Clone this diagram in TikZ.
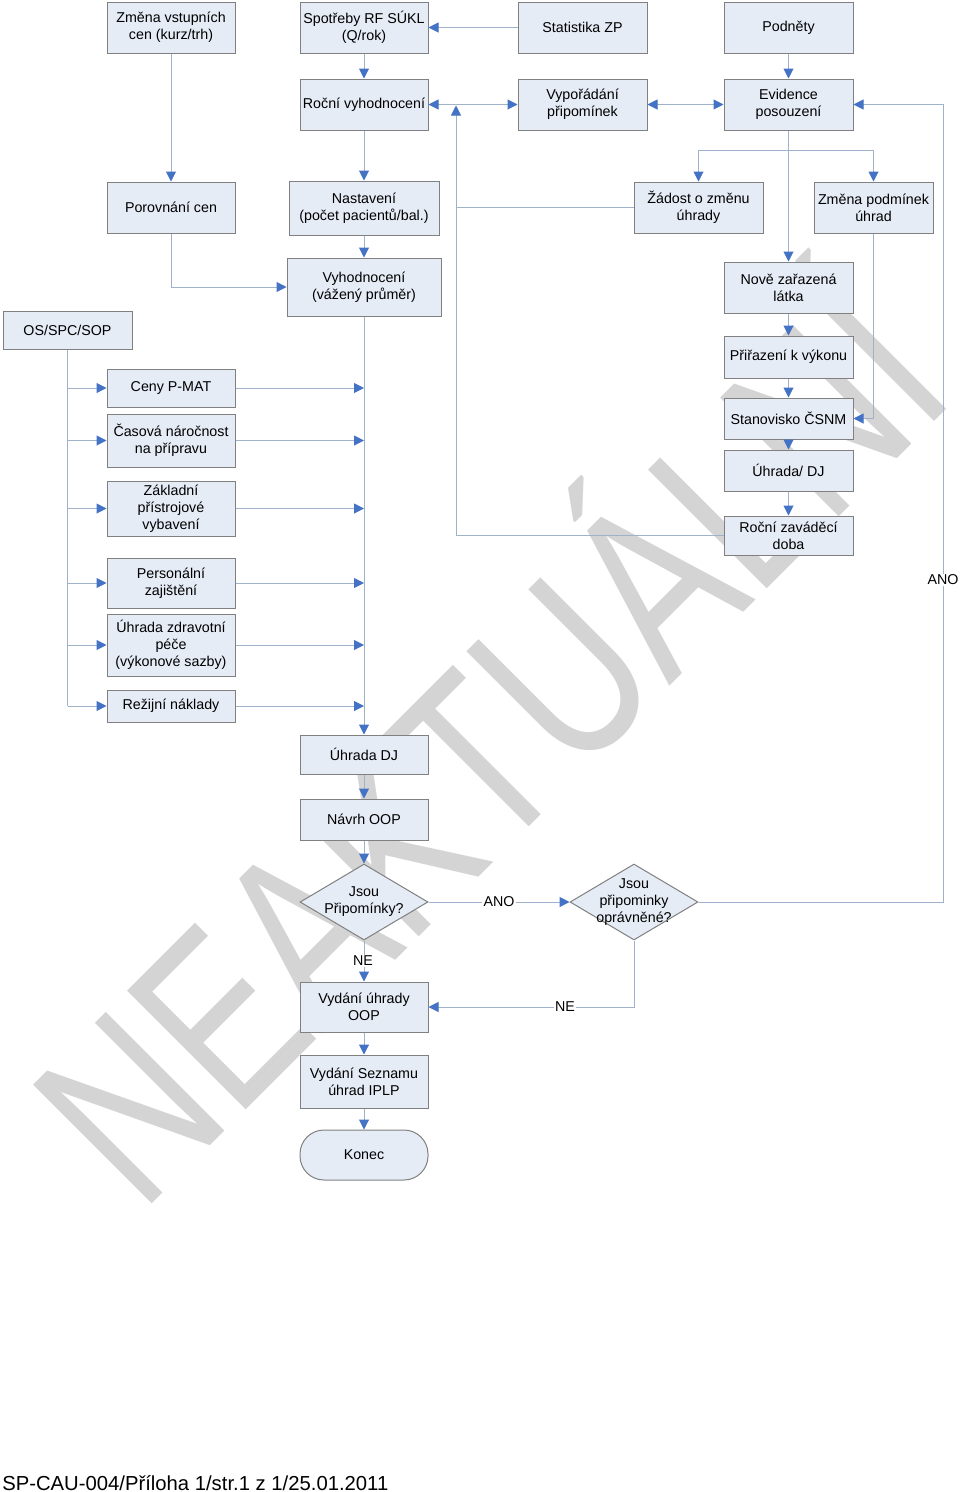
\documentclass[tikz,border=0pt]{standalone}
\usepackage{fontspec}
\setmainfont{Liberation Sans}
\usetikzlibrary{arrows.meta,shapes.geometric,calc}
\definecolor{boxfill}{RGB}{230,236,246}
\definecolor{boxline}{RGB}{128,128,128}
\definecolor{conn}{RGB}{160,178,202}
\definecolor{tipblue}{RGB}{68,114,196}
\definecolor{wm}{RGB}{212,212,212}
\begin{document}
\begin{tikzpicture}[x=0.75pt,y=-0.75pt,
  box/.style={draw=boxline, fill=boxfill, line width=0.75pt, align=center, inner sep=1pt,
    font=\fontsize{10.7}{12.75}\selectfont, minimum width=96pt, minimum height=#1},
  box/.default=38.25pt,
  txt/.style={align=center, inner sep=0pt, font=\fontsize{10.7}{12.75}\selectfont},
  lbl/.style={fill=white, inner sep=1pt, font=\fontsize{10.7}{12.75}\selectfont},
  ln/.style={draw=conn, line width=0.75pt},
  arr/.style={draw=conn, line width=0.75pt, -{Triangle[length=7.5pt,width=7.5pt,color=tipblue]}},
  arrboth/.style={draw=conn, line width=0.75pt, {Triangle[length=7.5pt,width=7.5pt,color=tipblue]}-{Triangle[length=7.5pt,width=7.5pt,color=tipblue]}},
  dia/.style={diamond, draw=boxline, fill=boxfill, line width=0.75pt, inner sep=0pt, minimum width=96pt, minimum height=57pt}
]
\useasboundingbox (0,0) rectangle (960,1492);
\fill[white] (0,0) rectangle (960,1492);

% watermark
\node[text=wm, rotate=45, anchor=base, inner sep=0pt, font=\fontsize{183}{183}\selectfont] (wmark) at (550,806) {\scalebox{0.755}[1]{NEAKTUÁLNÍ}};

% boxes
\node[box] (zmena) at (171,27.5) {Změna vstupních\\cen (kurz/trh)};
\node[box] (spotreby) at (364,27.5) {Spotřeby RF SÚKL\\(Q/rok)};
\node[box, minimum width=96.75pt] (statistika) at (582.5,27.5) {Statistika ZP};
\node[box, minimum width=96.75pt] (podnety) at (788.5,27.5) {Podněty};
\node[box] (rocni) at (364,104.5) {Roční vyhodnocení};
\node[box, minimum width=96.75pt] (vyporadani) at (582.5,104.5) {Vypořádání\\připomínek};
\node[box, minimum width=96.75pt] (evidence) at (788.5,104.5) {Evidence\\posouzení};
\node[box] (porovnani) at (171,207.5) {Porovnání cen};
\node[box, minimum width=112.5pt, minimum height=40.5pt] (nastaveni) at (364,208) {Nastavení\\(počet pacientů/bal.)};
\node[box, minimum width=96.75pt] (zadost) at (698.5,207.5) {Žádost o změnu\\úhrady};
\node[box, minimum width=89.25pt] (zmenapod) at (873.5,207.5) {Změna podmínek\\úhrad};
\node[box, minimum width=115.5pt, minimum height=43.5pt] (vyhodnoceni) at (364,287) {Vyhodnocení\\(vážený průměr)};
\node[box, minimum width=96.75pt] (nove) at (788.5,287.5) {Nově zařazená\\látka};
\node[box, minimum width=96.75pt, minimum height=28.5pt] (os) at (67.5,330) {OS/SPC/SOP};
\node[box=28.5pt] (ceny) at (171,388) {Ceny P-MAT};
\node[box=39.75pt] (casova) at (171,440.5) {Časová náročnost\\na přípravu};
\node[box=41.25pt] (zakladni) at (171,508.5) {Základní\\přístrojové\\vybavení};
\node[box=37.5pt] (personalni) at (171,583) {Personální\\zajištění};
\node[box=46.5pt] (uhradazp) at (171,645) {Úhrada zdravotní\\péče\\(výkonové sazby)};
\node[box=24pt] (rezijni) at (171,706) {Režijní náklady};
\node[box=31.5pt, minimum width=96.75pt] (prirazeni) at (788.5,357) {Přiřazení k výkonu};
\node[box=30.75pt, minimum width=96.75pt] (stanovisko) at (788.5,418.5) {Stanovisko ČSNM};
\node[box=30.75pt, minimum width=96.75pt] (uhradadj2) at (788.5,470.5) {Úhrada/ DJ};
\node[box=29.25pt, minimum width=96.75pt] (zavadeci) at (788.5,535.5) {Roční zaváděcí\\doba};
\node[box=29.25pt] (uhradadj) at (364,754.5) {Úhrada DJ};
\node[box=30.75pt] (navrh) at (364,819.5) {Návrh OOP};
\node[dia] (d1) at (364,902) {};
\node[txt] (d1t) at (364,902) {Jsou\\Připomínky?};
\node[dia] (d2) at (634,902) {};
\node[txt] (d2t) at (634,902) {Jsou\\připominky\\oprávněné?};
\node[box=37.5pt] (vydani) at (364,1007) {Vydání úhrady\\OOP};
\node[box=39.75pt] (seznam) at (364,1081.5) {Vydání Seznamu\\úhrad IPLP};
\node[box=37.5pt, rounded corners=18pt] (konec) at (364,1155) {Konec};

% connectors top
\draw[arr] (zmena.south) -- (porovnani.north);
\draw[arr] (spotreby.south) -- (rocni.north);
\draw[arr] (statistika.west) -- (spotreby.east);
\draw[arrboth] (rocni.east) -- (vyporadani.west);
\draw[arrboth] (vyporadani.east) -- (evidence.west);
\draw[arr] (podnety.south) -- (evidence.north);
\coordinate (evbranch) at (788.5,150);
\draw[arr] (evidence.south) -- (nove.north);
\draw[arr] (evbranch) -| (zadost.north);
\draw[arr] (evbranch) -| (zmenapod.north);
\draw[arr] (zmenapod.south) |- (stanovisko.east);
\draw[arr] (nove.south) -- (prirazeni.north);
\draw[arr] (prirazeni.south) -- (stanovisko.north);
\draw[arr] (stanovisko.south) -- (uhradadj2.north);
\draw[arr] (uhradadj2.south) -- (zavadeci.north);
\coordinate (jup) at (456,105.5);
\draw[arr] (zavadeci.west) -| (jup);
\draw[ln] (zadost.west) -- (zadost.west -| jup);
\coordinate (rc) at (943,104.5);
\draw[arr] (d2.east) -| (rc) -- (evidence.east);
\node[lbl] (ano2) at (943,580) {ANO};

% middle column
\draw[arr] (porovnani.south) |- (vyhodnoceni.west);
\draw[arr] (rocni.south) -- (nastaveni.north);
\draw[arr] (nastaveni.south) -- (vyhodnoceni.north);
\draw[arr] (vyhodnoceni.south) -- (uhradadj.north);

% left bus
\draw[ln] (os.south) -- (os.south |- rezijni.west);
\foreach \b in {ceny,casova,zakladni,personalni,uhradazp,rezijni}{
  \draw[arr] (os.south |- \b.west) -- (\b.west);
  \draw[arr] (\b.east) -- (vyhodnoceni.south |- \b.east);
}

% bottom
\draw[arr] (uhradadj.south) -- (navrh.north);
\draw[arr] (navrh.south) -- (d1.north);
\draw[arr] (d1.east) -- (d2.west);
\node[lbl] (ano1) at (499,902) {ANO};
\draw[arr] (d1.south) -- (vydani.north);
\node[lbl] (ne1) at (363,961) {NE};
\draw[arr] (d2.south) |- (vydani.east);
\node[lbl] (ne2) at (565,1007) {NE};
\draw[arr] (vydani.south) -- (seznam.north);
\draw[arr] (seznam.south) -- (konec.north);

% footer
\node[anchor=base west, inner sep=0pt, font=\fontsize{15.2}{18}\selectfont] (footer) at (2,1490) {SP-CAU-004/Příloha 1/str.1 z 1/25.01.2011};
\end{tikzpicture}
\end{document}
